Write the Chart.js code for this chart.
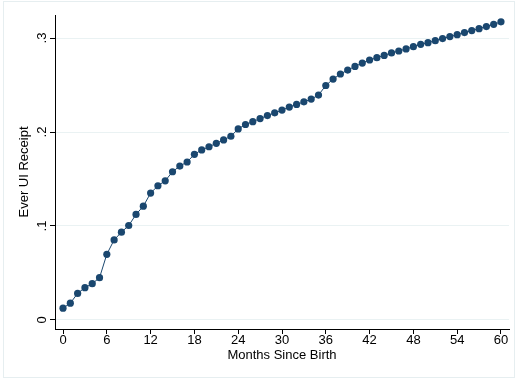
<!DOCTYPE html>
<meta charset="utf-8">
<title>Ever UI Receipt</title>
<style>
  body { margin: 0; background: #fff; }
</style>
<canvas id="chart" width="516" height="379"></canvas>
<script src="https://cdn.jsdelivr.net/npm/chart.js@4"></script>
<script>
  const months = [
    0, 1, 2, 3, 4, 5, 6, 7, 8, 9, 10, 11, 12, 13, 14, 15, 16, 17, 18, 19, 20,
    21, 22, 23, 24, 25, 26, 27, 28, 29, 30, 31, 32, 33, 34, 35, 36, 37, 38, 39, 40,
    41, 42, 43, 44, 45, 46, 47, 48, 49, 50, 51, 52, 53, 54, 55, 56, 57, 58, 59, 60,
  ]
  const everUI = [
    0.0126, 0.0179, 0.0283, 0.0344, 0.0386, 0.0450, 0.0699, 0.0852, 0.0934, 0.1005,
    0.1123, 0.1211, 0.1350, 0.1428, 0.1481, 0.1577, 0.1638, 0.1681, 0.1763, 0.1809,
    0.1843, 0.1880, 0.1916, 0.1955, 0.2033, 0.2080, 0.2110, 0.2143, 0.2175, 0.2204,
    0.2233, 0.2265, 0.2293, 0.2321, 0.2350, 0.2393, 0.2495, 0.2563, 0.2617, 0.2659,
    0.2698, 0.2734, 0.2766, 0.2791, 0.2815, 0.2841, 0.2862, 0.2884, 0.2908, 0.2933,
    0.2951, 0.2972, 0.2994, 0.3015, 0.3036, 0.3058, 0.3079, 0.3100, 0.3122, 0.3146,
    0.3172,
  ]
  const xTicks = [0, 6, 12, 18, 24, 30, 36, 42, 48, 54, 60]
  const yTicks = [0, 0.1, 0.2, 0.3]

  const navy = "#1a476f"
  const font = { family: "'Liberation Sans', Arial, sans-serif", size: 13 }

  // faint outer frame like the stata graph region
  const frame = {
    id: "frame",
    beforeDraw(c) {
      const ctx = c.ctx
      ctx.save()
      ctx.strokeStyle = "#e6eef0"
      ctx.lineWidth = 1
      ctx.strokeRect(3.5, 1.5, 511, 376)
      ctx.restore()
    },
  }

  new Chart(document.getElementById("chart"), {
    type: "line",
    data: {
      datasets: [{
        data: months.map((m, i) => ({ x: m, y: everUI[i] })),
        borderColor: navy,
        backgroundColor: navy,
        borderWidth: 1,
        pointRadius: 3.6,
        pointBorderWidth: 0,
        tension: 0,
      }],
    },
    options: {
      responsive: false,
      animation: false,
      layout: { padding: { top: 15, right: 7, left: 0, bottom: 0 } },
      plugins: { legend: { display: false }, tooltip: { enabled: false } },
      scales: {
        x: {
          type: "linear",
          min: -1.1,
          max: 61.1,
          afterBuildTicks: s => { s.ticks = xTicks.map(v => ({ value: v })) },
          afterFit: s => { s.height = 50 },
          ticks: { color: "#000", font, padding: -1 },
          grid: { drawOnChartArea: false, tickColor: "#000", tickLength: 5 },
          border: { color: "#000", width: 1 },
          title: { display: true, text: "Months Since Birth", color: "#000", font, padding: { top: 0, bottom: 16 } },
        },
        y: {
          min: -0.0096,
          max: 0.3245,
          afterBuildTicks: s => { s.ticks = yTicks.map(v => ({ value: v })) },
          afterFit: s => { s.width = 55 },
          ticks: {
            color: "#000",
            font,
            padding: 2,
            crossAlign: "center",
            minRotation: 90,
            maxRotation: 90,
            callback: v => v == 0 ? "0" : String(Math.round(v * 10) / 10).replace(/^0/, ""),
          },
          grid: { color: "#eaf2f3", tickColor: "#000", tickLength: 5 },
          border: { color: "#000", width: 1 },
          title: { display: true, text: "Ever UI Receipt", color: "#000", font, padding: { top: 17, bottom: 0 } },
        },
      },
    },
    plugins: [frame],
  })
</script>
